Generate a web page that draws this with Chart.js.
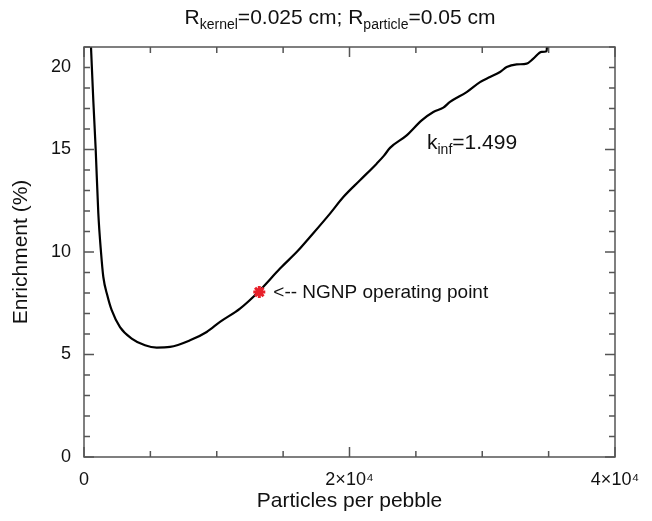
<!DOCTYPE html>
<html>
<head>
<meta charset="utf-8">
<script src="https://cdn.jsdelivr.net/npm/chart.js"></script>
<style>
  html, body { margin: 0; padding: 0; background: #fff; }
  #wrap { width: 652px; height: 521px; }
</style>
</head>
<body>
<div id="wrap"><canvas id="enrichmentChart" width="652" height="521"></canvas></div>
<script>
// particles per pebble vs. enrichment (%) at k_inf = 1.499
const particles = [527, 700, 881, 1077, 1280, 1456, 1750, 2086, 2712, 3592, 4595, 5477, 6478, 7985,
  9242, 10245, 11752, 13130, 14765, 16145, 17024, 18531, 19535, 20791, 22047, 22600, 23051,
  24307, 25437, 26315, 27068, 27570, 28825, 29831, 30584, 31337, 31840, 32593, 33346, 33848,
  34476, 34853, 34870];
const enrichment = [20.0, 17.4, 15.0, 11.9, 10.0, 8.78, 7.9, 7.16, 6.34, 5.78, 5.45, 5.34, 5.37, 5.69,
  6.10, 6.59, 7.24, 8.05, 9.19, 10.08, 10.73, 11.87, 12.68, 13.50, 14.31, 14.7, 15.08,
  15.69, 16.42, 16.83, 17.04, 17.32, 17.80, 18.29, 18.54, 18.78, 19.02, 19.15, 19.19, 19.43,
  19.76, 19.79, 20.0];

// NGNP operating point
const ngnpParticles = [13205];
const ngnpEnrichment = [8.05];

// tick labels (the "20" sits one minor tick below the top in the original)
const xTickLabels = { 0: '0', 20000: '2×10⁴', 40000: '4×10⁴' };
const yTickLabels = { 0: '0', 5: '5', 10: '10', 15: '15', 19: '20' };
const xMajor = [0, 20000, 40000];
const yMajor = [0, 5, 10, 15];

const FONT = '"Liberation Sans", Arial, Helvetica, sans-serif';

// draw text with subscript pieces: parts = [[text, isSub], ...]
function drawRich(ctx, parts, x, y, size, subSize, align) {
  let total = 0;
  const widths = parts.map(([t, sub]) => {
    ctx.font = (sub ? subSize : size) + 'px ' + FONT;
    const w = ctx.measureText(t).width;
    total += w;
    return w;
  });
  let cx = align === 'center' ? x - total / 2 : x;
  ctx.textAlign = 'left';
  ctx.textBaseline = 'alphabetic';
  parts.forEach(([t, sub], i) => {
    ctx.font = (sub ? subSize : size) + 'px ' + FONT;
    ctx.fillText(t, cx, sub ? y + 5 : y);
    cx += widths[i];
  });
}

const framePlugin = {
  id: 'frame',
  afterDraw(chart) {
    const { ctx, chartArea: a, scales: { x, y } } = chart;
    ctx.save();
    ctx.strokeStyle = '#555';
    ctx.lineWidth = 1.5;
    ctx.strokeRect(a.left, a.top, a.right - a.left, a.bottom - a.top);

    ctx.beginPath();
    x.ticks.forEach(t => {
      const px = x.getPixelForValue(t.value);
      const len = xMajor.includes(t.value) ? 10 : 6;
      ctx.moveTo(px, a.bottom); ctx.lineTo(px, a.bottom - len);
      ctx.moveTo(px, a.top); ctx.lineTo(px, a.top + len);
    });
    y.ticks.forEach(t => {
      const py = y.getPixelForValue(t.value);
      const len = yMajor.includes(t.value) ? 10 : 6;
      ctx.moveTo(a.left, py); ctx.lineTo(a.left + len, py);
      ctx.moveTo(a.right, py); ctx.lineTo(a.right - len, py);
    });
    ctx.stroke();

    ctx.fillStyle = '#111';
    // title
    drawRich(ctx, [['R', false], ['kernel', true], ['=0.025 cm; R', false], ['particle', true], ['=0.05 cm', false]],
      340, 24, 21, 14, 'center');
    // k_inf annotation
    drawRich(ctx, [['k', false], ['inf', true], ['=1.499', false]], 427, 149, 21, 14, 'left');
    // operating point label
    ctx.font = '19px ' + FONT;
    ctx.textBaseline = 'middle';
    ctx.fillText('<-- NGNP operating point', x.getPixelForValue(ngnpParticles[0]) + 14, y.getPixelForValue(ngnpEnrichment[0]) + 1);
    ctx.restore();
  }
};

new Chart(document.getElementById('enrichmentChart'), {
  type: 'scatter',
  data: {
    datasets: [
      {
        label: 'k_inf=1.499',
        data: particles.map((p, i) => ({ x: p, y: enrichment[i] })),
        showLine: true,
        borderColor: '#000',
        borderWidth: 2.2,
        pointRadius: 0,
        cubicInterpolationMode: 'monotone',
        order: 2
      },
      {
        label: 'NGNP operating point',
        data: ngnpParticles.map((p, i) => ({ x: p, y: ngnpEnrichment[i] })),
        pointStyle: 'star',
        pointRadius: 6,
        borderWidth: 3,
        borderColor: '#e8202a',
        backgroundColor: '#e8202a',
        order: 1
      }
    ]
  },
  options: {
    responsive: false,
    animation: false,
    devicePixelRatio: 1,
    layout: { padding: { top: 47, right: 37, left: 0, bottom: 0 } },
    plugins: {
      legend: { display: false },
      tooltip: { enabled: false },
      title: { display: false }
    },
    scales: {
      x: {
        type: 'linear',
        min: 0,
        max: 40000,
        grid: { display: false, drawTicks: false },
        border: { display: false },
        afterFit: s => { s.height = 64; },
        ticks: {
          stepSize: 5000,
          autoSkip: false,
          maxRotation: 0,
          padding: 12,
          color: '#111',
          font: { family: FONT, size: 18 },
          callback: v => xTickLabels[v] || ''
        },
        title: {
          display: true,
          text: 'Particles per pebble',
          color: '#111',
          font: { family: FONT, size: 21 },
          padding: { top: 0, bottom: 7 }
        }
      },
      y: {
        type: 'linear',
        min: 0,
        max: 20,
        grid: { display: false, drawTicks: false },
        border: { display: false },
        afterFit: s => { s.width = 84; },
        ticks: {
          stepSize: 1,
          autoSkip: false,
          padding: 13,
          color: '#111',
          font: { family: FONT, size: 18 },
          callback: v => yTickLabels[v] || ''
        },
        title: {
          display: true,
          text: 'Enrichment (%)',
          color: '#111',
          font: { family: FONT, size: 21 },
          padding: { top: 9, bottom: 0 }
        }
      }
    }
  },
  plugins: [framePlugin]
});
</script>
</body>
</html>
